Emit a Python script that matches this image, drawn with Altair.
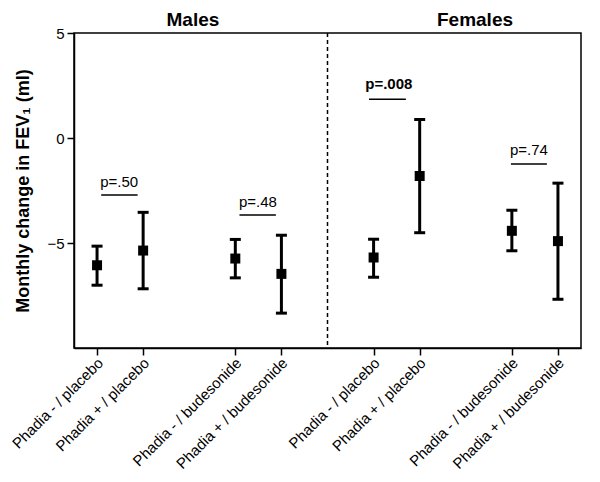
import altair as alt
import pandas as pd

# ---- data ----
categories = ["Phadia - / placebo", "Phadia + / placebo",
              "Phadia - / budesonide", "Phadia + / budesonide",
              "Phadia - / placebo", "Phadia + / placebo",
              "Phadia - / budesonide", "Phadia + / budesonide"]
xpos = [1, 2, 4, 5, 7, 8, 10, 11]
means = [-6.06, -5.36, -5.74, -6.47, -5.69, -1.81, -4.42, -4.91]
upper = [-5.15, -3.54, -4.83, -4.63, -4.82, 0.88, -3.44, -2.15]
lower = [-7.01, -7.18, -6.66, -8.34, -6.63, -4.51, -5.37, -7.68]

p_labels = ["p=.50", "p=.48", "p=.008", "p=.74"]
p_bold = [False, False, True, False]
p_x_start = [1.09, 4.09, 6.90, 9.98]
p_x_end = [1.88, 4.88, 7.70, 10.76]
p_text_x = [1.48, 4.49, 7.33, 10.37]
p_line_y = [-2.71, -3.67, 1.85, -1.24]
p_text_y = [-2.10, -3.06, 2.55, -0.56]

group_titles = ["Males", "Females"]
group_title_x = [3.08, 9.20]
group_title_y = [5.60, 5.60]

divider_x = [6]
y_ticks = [-5, 0, 5]
x_domain = [0.5, 11.5]
y_domain = [-10, 5]

FONT = "Liberation Sans, Arial, sans-serif"

pts = pd.DataFrame({"cat": categories, "x": xpos, "mean": means,
                    "upper": upper, "lower": lower})
pdf = pd.DataFrame({"label": p_labels, "bold": p_bold, "x1": p_x_start,
                    "x2": p_x_end, "tx": p_text_x, "ly": p_line_y,
                    "ty": p_text_y})
tdf = pd.DataFrame({"t": group_titles, "x": group_title_x, "y": group_title_y})
ddf = pd.DataFrame({"x": divider_x})

label_expr = " : ".join(
    f"datum.value == {v} ? '{c}'" for v, c in zip(xpos, categories)
) + " : ''"

xscale = alt.Scale(domain=x_domain, nice=False, zero=False)
yscale = alt.Scale(domain=y_domain, nice=False, zero=False)

x_axis = alt.Axis(values=xpos, labelExpr=label_expr, labelAngle=-45,
                  labelAlign="right", labelBaseline="top",
                  labelFont=FONT, labelFontSize=15, labelColor="#000",
                  tickColor="#000", tickSize=7, tickWidth=1.5,
                  domainColor="#000", domainWidth=1.5, grid=False,
                  title=None, labelPadding=0, labelOffset=-2,
                  labelOverlap=False)
y_axis = alt.Axis(values=y_ticks, title="Monthly change in FEV\u2081 (ml)",
                  labelFont=FONT, labelFontSize=15, labelColor="#000",
                  titleFont=FONT, titleFontSize=18, titleFontWeight="bold",
                  titleColor="#000", titlePadding=14,
                  tickColor="#000", tickSize=7, tickWidth=1.5,
                  domainColor="#000", domainWidth=1.5, grid=False,
                  labelPadding=3)

base = alt.Chart(pts)

bars = base.mark_rule(color="#000", strokeWidth=3).encode(
    x=alt.X("x:Q", scale=xscale, axis=x_axis),
    y=alt.Y("lower:Q", scale=yscale, axis=y_axis),
    y2="upper:Q",
)
cap_hi = base.mark_tick(orient="horizontal", color="#000", size=11,
                        thickness=3, opacity=1).encode(
    x=alt.X("x:Q", scale=xscale), y=alt.Y("upper:Q", scale=yscale))
cap_lo = base.mark_tick(orient="horizontal", color="#000", size=11,
                        thickness=3, opacity=1).encode(
    x=alt.X("x:Q", scale=xscale), y=alt.Y("lower:Q", scale=yscale))
squares = base.mark_square(color="#000", size=100, opacity=1).encode(
    x=alt.X("x:Q", scale=xscale), y=alt.Y("mean:Q", scale=yscale))

divider = alt.Chart(ddf).mark_rule(color="#000", strokeWidth=1.5,
                                   strokeDash=[4, 3]).encode(
    x=alt.X("x:Q", scale=xscale))

p_lines = alt.Chart(pdf).mark_rule(color="#000", strokeWidth=1.5).encode(
    x=alt.X("x1:Q", scale=xscale), x2="x2:Q",
    y=alt.Y("ly:Q", scale=yscale))
p_text_norm = alt.Chart(pdf).transform_filter("!datum.bold").mark_text(
    font=FONT, fontSize=15, color="#000", align="center",
    baseline="middle").encode(
    x=alt.X("tx:Q", scale=xscale), y=alt.Y("ty:Q", scale=yscale),
    text="label:N")
p_text_bold = alt.Chart(pdf).transform_filter("datum.bold").mark_text(
    font=FONT, fontSize=15, fontWeight="bold", color="#000",
    align="center", baseline="middle").encode(
    x=alt.X("tx:Q", scale=xscale), y=alt.Y("ty:Q", scale=yscale),
    text="label:N")

titles = alt.Chart(tdf).mark_text(
    font=FONT, fontSize=19, fontWeight="bold", color="#000",
    align="center", baseline="middle").encode(
    x=alt.X("x:Q", scale=xscale), y=alt.Y("y:Q", scale=yscale), text="t:N")

chart = alt.layer(
    bars, cap_hi, cap_lo, squares, divider, p_lines,
    p_text_norm, p_text_bold, titles
).properties(
    width=507, height=315,
    autosize=alt.AutoSizeParams(type="none"),
    padding={"left": 66, "top": 25, "right": 11, "bottom": 150},
    background="white",
).configure_view(stroke="#000", strokeWidth=1.5)

chart.save("out.html", embed_options={"renderer": "svg", "actions": False})
